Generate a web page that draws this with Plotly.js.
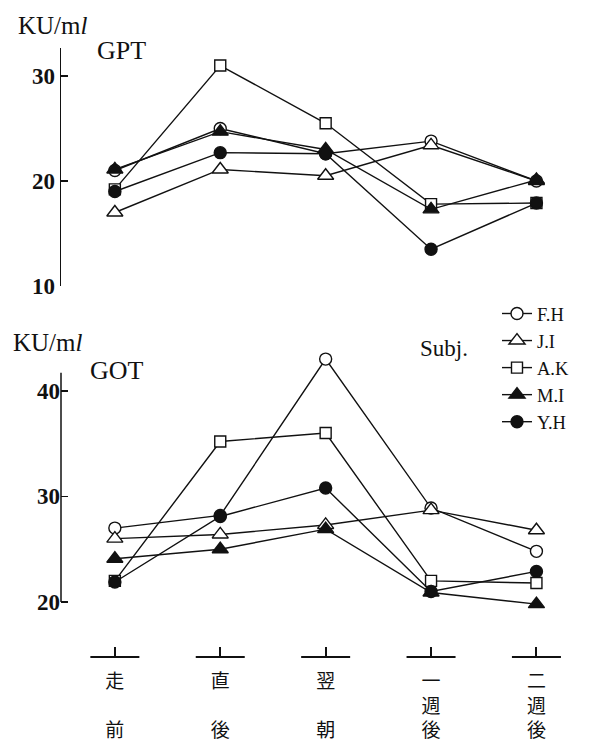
<!DOCTYPE html>
<html><head><meta charset="utf-8">
<script src="https://cdn.plot.ly/plotly-3.0.1.min.js"></script>
<style>body{margin:0;background:#fff}</style>
</head><body><div id="chart" style="width:589px;height:743px"></div>
<script>
// ---- data ----
const timepoints = ['走前', '直後', '翌朝', '一週後', '二週後'];
const subjects = ['F.H', 'J.I', 'A.K', 'M.I', 'Y.H'];
const gpt_FH = [21.0, 25.0, 22.6, 23.8, 20.0];
const gpt_JI = [17.0, 21.1, 20.5, 23.4, 20.0];
const gpt_AK = [19.2, 31.0, 25.5, 17.8, 17.9];
const gpt_MI = [21.1, 24.7, 23.0, 17.3, 20.1];
const gpt_YH = [19.0, 22.7, 22.6, 13.5, 17.9];
const got_FH = [27.0, 28.2, 43.0, 28.9, 24.8];
const got_JI = [26.0, 26.4, 27.3, 28.7, 26.8];
const got_AK = [22.0, 35.2, 36.0, 22.0, 21.8];
const got_MI = [24.1, 25.0, 26.9, 20.9, 19.8];
const got_YH = [21.9, 28.1, 30.8, 21.0, 22.9];
const gptTicks = [10, 20, 30];
const gotTicks = [20, 30, 40];

// ---- styles ----
const serif = 'Liberation Serif, DejaVu Serif, serif';
const cjk = 'Noto Sans CJK JP, sans-serif';
const ink = '#111';
const markerStyles = {
  'F.H': {symbol: 'circle', color: '#fff', size: 12},
  'J.I': {symbol: 'triangle-up', color: '#fff', size: 14},
  'A.K': {symbol: 'square', color: '#fff', size: 11},
  'M.I': {symbol: 'triangle-up', color: ink, size: 14},
  'Y.H': {symbol: 'circle', color: ink, size: 12}
};
const gptSeries = {'F.H': gpt_FH, 'J.I': gpt_JI, 'A.K': gpt_AK, 'M.I': gpt_MI, 'Y.H': gpt_YH};
const gotSeries = {'F.H': got_FH, 'J.I': got_JI, 'A.K': got_AK, 'M.I': got_MI, 'Y.H': got_YH};

function tickLabel(s) {
  const ch = Array.from(s);
  if (ch.length === 2) return ch[0] + '<br>\u3000<br>' + ch[1];
  return ch.join('<br>');
}

const traces = [];
function addSet(series, xa, ya, legend) {
  subjects.forEach(name => {
    const st = markerStyles[name];
    traces.push({
      x: timepoints, y: series[name], xaxis: xa, yaxis: ya,
      type: 'scatter', mode: 'lines+markers', name: name, showlegend: legend,
      cliponaxis: false,
      line: {color: ink, width: 1.4},
      marker: {symbol: st.symbol, size: st.size, color: st.color, line: {color: ink, width: 1.4}}
    });
  });
}
addSet(gptSeries, 'x', 'y', false);
addSet(gotSeries, 'x2', 'y2', true);
// tick "foot" bars on the category strip
traces.push({
  x: timepoints, y: timepoints.map(() => 0), xaxis: 'x3', yaxis: 'y3',
  type: 'scatter', mode: 'markers', showlegend: false, hoverinfo: 'skip', cliponaxis: false,
  marker: {symbol: 'line-ew', size: 35, line: {color: ink, width: 2}}
});

const xr = [-0.511, 4.233];
const hiddenX = {type: 'category', range: xr, visible: false, showgrid: false, zeroline: false};
const yBase = {
  linecolor: ink, linewidth: 1.5, ticks: 'inside', ticklen: 7, tickwidth: 1.5,
  tickcolor: ink, showgrid: false, zeroline: false,
  tickfont: {family: serif, size: 23, color: ink, weight: 'bold'}
};

const layout = {
  width: 589, height: 743,
  margin: {l: 61, r: 28, t: 0, b: 0},
  paper_bgcolor: '#fff', plot_bgcolor: 'rgba(0,0,0,0)',
  showlegend: true,
  xaxis: Object.assign({}, hiddenX, {anchor: 'y'}),
  xaxis2: Object.assign({}, hiddenX, {anchor: 'y2'}),
  xaxis3: {
    type: 'category', range: xr, anchor: 'y3', showline: false, showgrid: false, zeroline: false,
    ticks: 'inside', ticklen: 10, tickwidth: 2, tickcolor: ink, ticklabelstandoff: 11,
    tickvals: timepoints, ticktext: timepoints.map(tickLabel),
    tickfont: {family: cjk, size: 19, color: ink}
  },
  yaxis: Object.assign({}, yBase, {showline: true, domain: [0.6151, 0.9354], range: [10, 32.67], tickvals: gptTicks}),
  yaxis2: Object.assign({}, yBase, {showline: false, domain: [0.1755, 0.5380], range: [19.0, 44.5], tickvals: gotTicks}),
  yaxis3: {domain: [0.1157, 0.1386], range: [0, 1], visible: false},
  shapes: [
    {type: 'line', xref: 'paper', yref: 'y2', x0: 0, x1: 0, y0: 20, y1: 41.7, line: {color: ink, width: 1.5}}
  ],
  legend: {
    x: 0.872, y: 0.603, xanchor: 'left', yanchor: 'top',
    font: {family: serif, size: 18.5, color: ink},
    bgcolor: 'rgba(0,0,0,0)', tracegroupgap: 0, itemwidth: 30
  },
  annotations: [
    {text: 'KU/m<i>l</i>', xref: 'paper', yref: 'paper', x: -0.09, y: 0.9663, xanchor: 'left', yanchor: 'middle', showarrow: false, font: {family: serif, size: 25, color: ink}},
    {text: 'GPT', xref: 'paper', yref: 'paper', x: 0.068, y: 0.9327, xanchor: 'left', yanchor: 'middle', showarrow: false, font: {family: serif, size: 26, color: ink}},
    {text: 'KU/m<i>l</i>', xref: 'paper', yref: 'paper', x: -0.1, y: 0.5384, xanchor: 'left', yanchor: 'middle', showarrow: false, font: {family: serif, size: 25, color: ink}},
    {text: 'GOT', xref: 'paper', yref: 'paper', x: 0.054, y: 0.5007, xanchor: 'left', yanchor: 'middle', showarrow: false, font: {family: serif, size: 26, color: ink}},
    {text: 'Subj.', xref: 'paper', yref: 'paper', x: 0.766, y: 0.5316, xanchor: 'center', yanchor: 'middle', showarrow: false, font: {family: serif, size: 23, color: ink}}
  ]
};

Plotly.newPlot('chart', traces, layout, {displayModeBar: false, staticPlot: true});
</script></body></html>
